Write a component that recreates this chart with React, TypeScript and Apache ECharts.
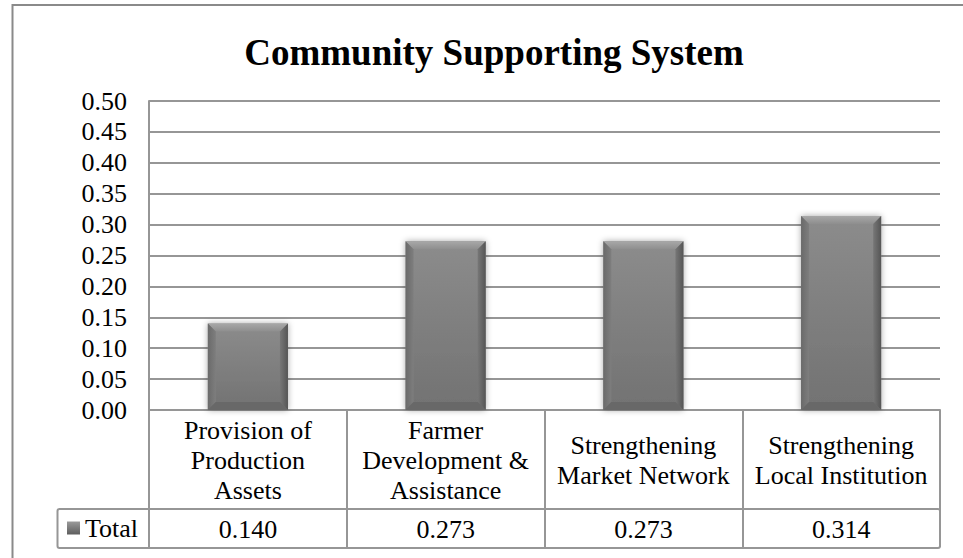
import React, { useEffect, useRef } from "react";
import * as echarts from "echarts";

const titleText = "Community Supporting System";
const categories = [
  "Provision of\nProduction\nAssets",
  "Farmer\nDevelopment &\nAssistance",
  "Strengthening\nMarket Network",
  "Strengthening\nLocal Institution",
];
const seriesName = "Total";
const totals = [0.14, 0.273, 0.273, 0.314];
const yMin = 0;
const yMax = 0.5;
const yStep = 0.05;

const FONT = "Liberation Serif";
const LINE = "#969696";

export default function App() {
  const ref = useRef<HTMLDivElement>(null);
  useEffect(() => {
    if (!ref.current) return;
    const chart = echarts.init(ref.current, undefined, { renderer: "svg" });
    const option: any = {
      animation: false,
      backgroundColor: "#ffffff",
      textStyle: { fontFamily: FONT },
      title: {
        text: titleText,
        left: 489,
        textAlign: "center",
        top: 29,
        textStyle: { fontFamily: FONT, fontSize: 37, fontWeight: "bold", color: "#000" },
      },
      legend: {
        data: [
          {
            name: seriesName,
            itemStyle: {
              color: new echarts.graphic.LinearGradient(0, 0, 0, 1, [
                { offset: 0, color: "#9a9a9a" },
                { offset: 1, color: "#5e5e5e" },
              ]),
            },
          },
        ],
        left: 62,
        top: 510,
        icon: "rect",
        itemWidth: 13,
        itemHeight: 13,
        textStyle: { fontFamily: FONT, fontSize: 26, color: "#000" },
      },
      grid: { left: 149, right: 23, top: 101, bottom: 148, containLabel: false },
      xAxis: [
        {
          type: "category",
          data: categories,
          axisLine: { show: true, lineStyle: { color: LINE, width: 2 } },
          axisTick: { show: true, interval: 0, length: 137, lineStyle: { color: LINE, width: 2 } },
          axisLabel: {
            interval: 0,
            margin: 50,
            verticalAlign: "middle",
            lineHeight: 30,
            fontFamily: FONT,
            fontSize: 26,
            color: "#000",
          },
        },
        {
          type: "category",
          data: totals.map((v) => v.toFixed(3)),
          position: "bottom",
          offset: 99,
          axisLine: { show: false },
          axisTick: { show: false },
          axisLabel: {
            interval: 0,
            margin: 20,
            verticalAlign: "middle",
            fontFamily: FONT,
            fontSize: 26,
            color: "#000",
          },
        },
      ],
      yAxis: {
        type: "value",
        min: yMin,
        max: yMax,
        interval: yStep,
        axisLine: { show: true, lineStyle: { color: LINE, width: 2 } },
        axisTick: { show: false },
        splitLine: { show: true, lineStyle: { color: LINE, width: 2 } },
        axisLabel: {
          margin: 22,
          formatter: (v: number) => v.toFixed(2),
          fontFamily: FONT,
          fontSize: 26,
          color: "#000",
        },
      },
      series: [
        {
          name: seriesName,
          type: "custom",
          xAxisIndex: 0,
          encode: { x: 0, y: 1 },
          itemStyle: { color: "#7b7b7b" },
          data: totals.map((v, i) => [i, v]),
          renderItem: (params: any, api: any) => {
            const idx = api.value(0);
            const v = api.value(1);
            const top = api.coord([idx, v]);
            const base = api.coord([idx, 0]);
            const catW = api.size([1, 0])[0];
            const w = catW * 0.405;
            const x0 = top[0] - w / 2;
            const x1 = top[0] + w / 2;
            const y0 = top[1];
            const y1 = base[1];
            const b = 8;
            return {
              type: "group",
              children: [
                {
                  type: "rect",
                  shape: { x: x0, y: y0, width: w, height: y1 - y0 },
                  style: {
                    fill: new echarts.graphic.LinearGradient(0, 0, 0, 1, [
                      { offset: 0, color: "#8c8c8c" },
                      { offset: 1, color: "#727272" },
                    ]),
                    shadowBlur: 6,
                    shadowColor: "rgba(0,0,0,0.35)",
                  },
                },
                {
                  type: "polygon",
                  shape: { points: [[x0, y0], [x1, y0], [x1 - b, y0 + b], [x0 + b, y0 + b]] },
                  style: {
                    fill: new echarts.graphic.LinearGradient(0, 0, 0, 1, [
                      { offset: 0, color: "#a8a8a8" },
                      { offset: 1, color: "#8e8e8e" },
                    ]),
                  },
                },
                {
                  type: "polygon",
                  shape: { points: [[x0, y0], [x0 + b, y0 + b], [x0 + b, y1 - b], [x0, y1]] },
                  style: {
                    fill: new echarts.graphic.LinearGradient(0, 0, 1, 0, [
                      { offset: 0, color: "#6a6a6a" },
                      { offset: 1, color: "#7e7e7e" },
                    ]),
                  },
                },
                {
                  type: "polygon",
                  shape: { points: [[x1, y0], [x1, y1], [x1 - b, y1 - b], [x1 - b, y0 + b]] },
                  style: {
                    fill: new echarts.graphic.LinearGradient(0, 0, 1, 0, [
                      { offset: 0, color: "#777777" },
                      { offset: 1, color: "#555555" },
                    ]),
                  },
                },
                {
                  type: "polygon",
                  shape: { points: [[x0, y1], [x0 + b, y1 - b], [x1 - b, y1 - b], [x1, y1]] },
                  style: { fill: "#686868" },
                },
              ],
            };
          },
        },
      ],
      graphic: [
        {
          type: "rect",
          shape: { x: 12.5, y: 5, width: 1000, height: 600 },
          style: { fill: "none", stroke: "#8a8a8a", lineWidth: 2 },
          silent: true,
        },
        {
          type: "rect",
          shape: { x: 57.5, y: 509, width: 882.5, height: 39, r: 2 },
          style: { fill: "none", stroke: LINE, lineWidth: 2 },
          silent: true,
        },
      ],
    };
    chart.setOption(option);
    return () => chart.dispose();
  }, []);
  return (
    <div
      ref={ref}
      style={{ position: "fixed", left: 0, top: 0, width: 963, height: 558, background: "#fff" }}
    />
  );
}
